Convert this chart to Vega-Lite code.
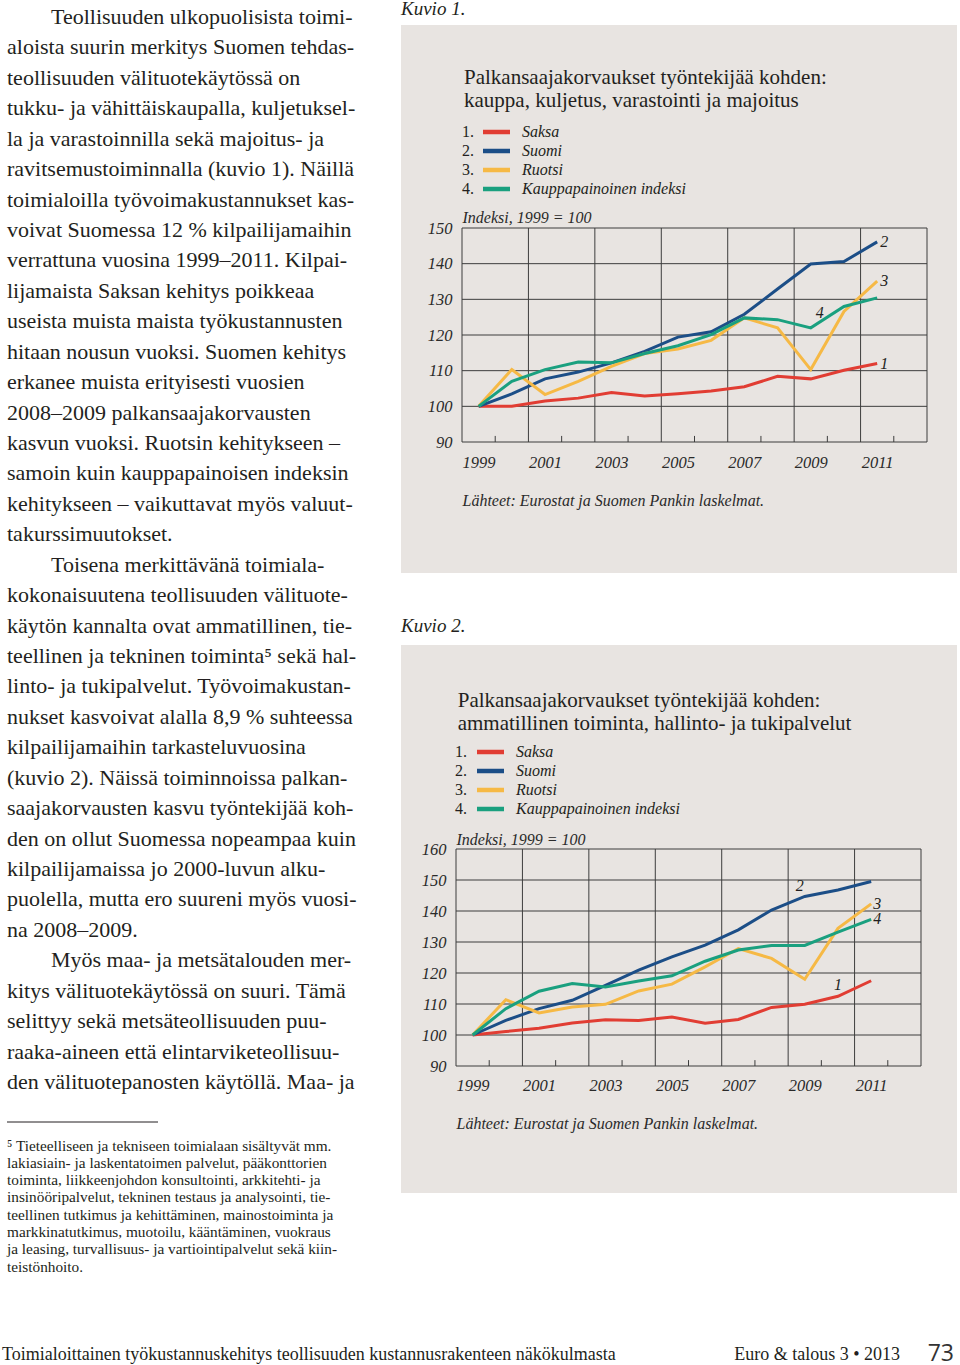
{
  "$schema": "https://vega.github.io/schema/vega-lite/v6.json",
  "background": "white",
  "padding": {"left": 2, "top": 0, "right": 0, "bottom": 0},
  "bounds": "flush",
  "spacing": 399,
  "resolve": {"scale": {"color": "independent", "shape": "independent"}, "legend": {"color": "independent", "shape": "independent"}},
  "config": {
    "view": {"stroke": null},
    "font": "Liberation Serif",
    "title": {"font": "Liberation Serif", "fontWeight": "normal", "color": "#231f20", "anchor": "start", "frame": "group"},
    "axis": {"labelFont": "Liberation Serif", "labelFontStyle": "italic", "labelFontSize": 16.5, "labelColor": "#2a2a2a", "titleFont": "Liberation Serif", "titleFontStyle": "italic", "titleFontWeight": "normal", "titleFontSize": 16, "titleColor": "#2a2a2a"},
    "legend": {"labelFont": "Liberation Serif", "labelColor": "#231f20", "labelFontSize": 16, "clipHeight": 16, "rowPadding": 3, "labelLimit": 400, "titleLimit": 600}
  },
  "datasets": {
    "kuvio1": [
      {"year": 1999, "series": "Saksa", "value": 100},
      {"year": 2000, "series": "Saksa", "value": 100.0},
      {"year": 2001, "series": "Saksa", "value": 101.5},
      {"year": 2002, "series": "Saksa", "value": 102.3},
      {"year": 2003, "series": "Saksa", "value": 103.9},
      {"year": 2004, "series": "Saksa", "value": 102.9},
      {"year": 2005, "series": "Saksa", "value": 103.5},
      {"year": 2006, "series": "Saksa", "value": 104.3},
      {"year": 2007, "series": "Saksa", "value": 105.5},
      {"year": 2008, "series": "Saksa", "value": 108.4},
      {"year": 2009, "series": "Saksa", "value": 107.7},
      {"year": 2010, "series": "Saksa", "value": 110.1},
      {"year": 2011, "series": "Saksa", "value": 112.0, "label": "1"},
      {"year": 1999, "series": "Suomi", "value": 100},
      {"year": 2000, "series": "Suomi", "value": 103.5},
      {"year": 2001, "series": "Suomi", "value": 107.7},
      {"year": 2002, "series": "Suomi", "value": 109.6},
      {"year": 2003, "series": "Suomi", "value": 112.2},
      {"year": 2004, "series": "Suomi", "value": 115.4},
      {"year": 2005, "series": "Suomi", "value": 119.4},
      {"year": 2006, "series": "Suomi", "value": 120.9},
      {"year": 2007, "series": "Suomi", "value": 125.8},
      {"year": 2008, "series": "Suomi", "value": 132.9},
      {"year": 2009, "series": "Suomi", "value": 139.9},
      {"year": 2010, "series": "Suomi", "value": 140.6},
      {"year": 2011, "series": "Suomi", "value": 146.1, "label": "2"},
      {"year": 1999, "series": "Ruotsi", "value": 100},
      {"year": 2000, "series": "Ruotsi", "value": 110.3},
      {"year": 2001, "series": "Ruotsi", "value": 103.3},
      {"year": 2002, "series": "Ruotsi", "value": 107.0},
      {"year": 2003, "series": "Ruotsi", "value": 111.2},
      {"year": 2004, "series": "Ruotsi", "value": 114.8},
      {"year": 2005, "series": "Ruotsi", "value": 116.1},
      {"year": 2006, "series": "Ruotsi", "value": 118.5},
      {"year": 2007, "series": "Ruotsi", "value": 124.8},
      {"year": 2008, "series": "Ruotsi", "value": 122.0},
      {"year": 2009, "series": "Ruotsi", "value": 110.3},
      {"year": 2010, "series": "Ruotsi", "value": 126.6},
      {"year": 2011, "series": "Ruotsi", "value": 135.1, "label": "3"},
      {"year": 1999, "series": "Kauppapainoinen indeksi", "value": 100},
      {"year": 2000, "series": "Kauppapainoinen indeksi", "value": 107.0},
      {"year": 2001, "series": "Kauppapainoinen indeksi", "value": 110.3},
      {"year": 2002, "series": "Kauppapainoinen indeksi", "value": 112.4},
      {"year": 2003, "series": "Kauppapainoinen indeksi", "value": 112.2},
      {"year": 2004, "series": "Kauppapainoinen indeksi", "value": 114.8},
      {"year": 2005, "series": "Kauppapainoinen indeksi", "value": 117.0},
      {"year": 2006, "series": "Kauppapainoinen indeksi", "value": 120.1},
      {"year": 2007, "series": "Kauppapainoinen indeksi", "value": 124.8},
      {"year": 2008, "series": "Kauppapainoinen indeksi", "value": 124.3},
      {"year": 2009, "series": "Kauppapainoinen indeksi", "value": 122.0, "label": "4"},
      {"year": 2010, "series": "Kauppapainoinen indeksi", "value": 128.0},
      {"year": 2011, "series": "Kauppapainoinen indeksi", "value": 130.4}
    ],
    "kuvio2": [
      {"year": 1999, "series": "Saksa", "value": 100},
      {"year": 2000, "series": "Saksa", "value": 101.1},
      {"year": 2001, "series": "Saksa", "value": 102.2},
      {"year": 2002, "series": "Saksa", "value": 103.9},
      {"year": 2003, "series": "Saksa", "value": 104.9},
      {"year": 2004, "series": "Saksa", "value": 104.7},
      {"year": 2005, "series": "Saksa", "value": 105.8},
      {"year": 2006, "series": "Saksa", "value": 103.8},
      {"year": 2007, "series": "Saksa", "value": 105.0},
      {"year": 2008, "series": "Saksa", "value": 108.9},
      {"year": 2009, "series": "Saksa", "value": 109.9},
      {"year": 2010, "series": "Saksa", "value": 112.5, "label": "1"},
      {"year": 2011, "series": "Saksa", "value": 117.5},
      {"year": 1999, "series": "Suomi", "value": 100},
      {"year": 2000, "series": "Suomi", "value": 104.7},
      {"year": 2001, "series": "Suomi", "value": 108.5},
      {"year": 2002, "series": "Suomi", "value": 111.2},
      {"year": 2003, "series": "Suomi", "value": 116.0},
      {"year": 2004, "series": "Suomi", "value": 120.9},
      {"year": 2005, "series": "Suomi", "value": 125.2},
      {"year": 2006, "series": "Suomi", "value": 129.0},
      {"year": 2007, "series": "Suomi", "value": 133.9},
      {"year": 2008, "series": "Suomi", "value": 140.3},
      {"year": 2009, "series": "Suomi", "value": 144.7, "label": "2"},
      {"year": 2010, "series": "Suomi", "value": 146.8},
      {"year": 2011, "series": "Suomi", "value": 149.5},
      {"year": 1999, "series": "Ruotsi", "value": 100},
      {"year": 2000, "series": "Ruotsi", "value": 111.4},
      {"year": 2001, "series": "Ruotsi", "value": 107.1},
      {"year": 2002, "series": "Ruotsi", "value": 109.0},
      {"year": 2003, "series": "Ruotsi", "value": 109.9},
      {"year": 2004, "series": "Ruotsi", "value": 114.2},
      {"year": 2005, "series": "Ruotsi", "value": 116.4},
      {"year": 2006, "series": "Ruotsi", "value": 122.0},
      {"year": 2007, "series": "Ruotsi", "value": 127.9},
      {"year": 2008, "series": "Ruotsi", "value": 124.7},
      {"year": 2009, "series": "Ruotsi", "value": 118.0},
      {"year": 2010, "series": "Ruotsi", "value": 134.4},
      {"year": 2011, "series": "Ruotsi", "value": 142.3, "label": "3"},
      {"year": 1999, "series": "Kauppapainoinen indeksi", "value": 100},
      {"year": 2000, "series": "Kauppapainoinen indeksi", "value": 108.5},
      {"year": 2001, "series": "Kauppapainoinen indeksi", "value": 114.1},
      {"year": 2002, "series": "Kauppapainoinen indeksi", "value": 116.6},
      {"year": 2003, "series": "Kauppapainoinen indeksi", "value": 115.5},
      {"year": 2004, "series": "Kauppapainoinen indeksi", "value": 117.4},
      {"year": 2005, "series": "Kauppapainoinen indeksi", "value": 119.1},
      {"year": 2006, "series": "Kauppapainoinen indeksi", "value": 123.8},
      {"year": 2007, "series": "Kauppapainoinen indeksi", "value": 127.4},
      {"year": 2008, "series": "Kauppapainoinen indeksi", "value": 128.9},
      {"year": 2009, "series": "Kauppapainoinen indeksi", "value": 128.9},
      {"year": 2010, "series": "Kauppapainoinen indeksi", "value": 133.2},
      {"year": 2011, "series": "Kauppapainoinen indeksi", "value": 137.3, "label": "4"}
    ],
    "legendnumbers": [{"nro": "1."}, {"nro": "2."}, {"nro": "3."}, {"nro": "4."}],
    "gridyears": [{"gridyear": 2000.5}, {"gridyear": 2002.5}, {"gridyear": 2004.5}, {"gridyear": 2006.5}, {"gridyear": 2008.5}, {"gridyear": 2010.5}],
    "tickyears": [{"tickyear": 1999.5}, {"tickyear": 2001.5}, {"tickyear": 2003.5}, {"tickyear": 2005.5}, {"tickyear": 2007.5}, {"tickyear": 2009.5}, {"tickyear": 2011.5}],
    "gridvalues1": [{"gridvalue": 100}, {"gridvalue": 110}, {"gridvalue": 120}, {"gridvalue": 130}, {"gridvalue": 140}],
    "gridvalues2": [{"gridvalue": 100}, {"gridvalue": 110}, {"gridvalue": 120}, {"gridvalue": 130}, {"gridvalue": 140}, {"gridvalue": 150}]
  },
  "hconcat": [
    {
      "bounds": "flush",
      "spacing": 1096,
      "vconcat": [
        {
          "width": 355,
          "height": 1,
          "data": {"values": []},
          "mark": "text",
          "encoding": {},
          "title": {
            "text": [
              "\u200b\u2003\u2003Teollisuuden ulkopuolisista toimi-",
              "aloista suurin merkitys Suomen tehdas-",
              "teollisuuden välituotekäytössä on",
              "tukku- ja vähittäiskaupalla, kuljetuksel-",
              "la ja varastoinnilla sekä majoitus- ja",
              "ravitsemustoiminnalla (kuvio 1). Näillä",
              "toimialoilla työvoimakustannukset kas-",
              "voivat Suomessa 12 % kilpailijamaihin",
              "verrattuna vuosina 1999–2011. Kilpai-",
              "lijamaista Saksan kehitys poikkeaa",
              "useista muista maista työkustannusten",
              "hitaan nousun vuoksi. Suomen kehitys",
              "erkanee muista erityisesti vuosien",
              "2008–2009 palkansaajakorvausten",
              "kasvun vuoksi. Ruotsin kehitykseen –",
              "samoin kuin kauppapainoisen indeksin",
              "kehitykseen – vaikuttavat myös valuut-",
              "takurssimuutokset.",
              "\u200b\u2003\u2003Toisena merkittävänä toimiala-",
              "kokonaisuutena teollisuuden välituote-",
              "käytön kannalta ovat ammatillinen, tie-",
              "teellinen ja tekninen toiminta⁵ sekä hal-",
              "linto- ja tukipalvelut. Työvoimakustan-",
              "nukset kasvoivat alalla 8,9 % suhteessa",
              "kilpailijamaihin tarkasteluvuosina",
              "(kuvio 2). Näissä toiminnoissa palkan-",
              "saajakorvausten kasvu työntekijää koh-",
              "den on ollut Suomessa nopeampaa kuin",
              "kilpailijamaissa jo 2000-luvun alku-",
              "puolella, mutta ero suureni myös vuosi-",
              "na 2008–2009.",
              "\u200b\u2003\u2003Myös maa- ja metsätalouden mer-",
              "kitys välituotekäytössä on suuri. Tämä",
              "selittyy sekä metsäteollisuuden puu-",
              "raaka-aineen että elintarviketeollisuu-",
              "den välituotepanosten käytöllä. Maa- ja"
            ],
            "orient": "bottom",
            "anchor": "start",
            "frame": "group",
            "baseline": "alphabetic",
            "offset": -2,
            "dx": 5,
            "fontSize": 22,
            "lineHeight": 30.43
          }
        },
        {
          "bounds": "flush",
          "spacing": 238,
          "vconcat": [
            {
              "width": 156,
              "height": 1,
              "data": {"values": [{}]},
              "mark": {"type": "rule", "color": "#231f20", "strokeWidth": 1, "xOffset": 5},
              "encoding": {
                "x": {"datum": 0, "type": "quantitative", "scale": {"domain": [0, 1]}, "axis": null},
                "x2": {"datum": 1},
                "y": {"datum": 1, "type": "quantitative", "scale": {"domain": [0, 1]}, "axis": null}
              },
              "title": {
                "text": [
                  "⁵ Tieteelliseen ja tekniseen toimialaan sisältyvät mm.",
                  "lakiasiain- ja laskentatoimen palvelut, pääkonttorien",
                  "toiminta, liikkeenjohdon konsultointi, arkkitehti- ja",
                  "insinööripalvelut, tekninen testaus ja analysointi, tie-",
                  "teellinen tutkimus ja kehittäminen, mainostoiminta ja",
                  "markkinatutkimus, muotoilu, kääntäminen, vuokraus",
                  "ja leasing, turvallisuus- ja vartiointipalvelut sekä kiin-",
                  "teistönhoito."
                ],
                "orient": "bottom",
                "anchor": "start",
                "frame": "group",
                "baseline": "alphabetic",
                "offset": 27.5,
                "dx": 5,
                "fontSize": 15.3,
                "lineHeight": 17.3
              }
            },
            {
              "width": 355,
              "height": 1,
              "data": {"values": []},
              "mark": "text",
              "encoding": {},
              "title": {
                "text": "Toimialoittainen työkustannuskehitys teollisuuden kustannusrakenteen näkökulmasta",
                "orient": "bottom",
                "anchor": "start",
                "frame": "group",
                "baseline": "alphabetic",
                "offset": -2,
                "fontSize": 18
              }
            }
          ]
        }
      ]
    },
    {
      "bounds": "flush",
      "spacing": 72,
      "resolve": {"scale": {"color": "independent", "shape": "independent"}, "legend": {"color": "independent", "shape": "independent"}},
      "vconcat": [
        {
          "width": 556,
          "height": 548,
          "view": {"fill": "#e8e4e1", "stroke": null},
          "title": {
            "text": "Kuvio 1.",
            "subtitle": ["\u200b\u2003\u2003\u2003Palkansaajakorvaukset työntekijää kohden:", "\u200b\u2003\u2003\u2003kauppa, kuljetus, varastointi ja majoitus"],
            "orient": "top", "anchor": "start", "frame": "group", "baseline": "top", "offset": -86,
            "fontSize": 19, "fontStyle": "italic",
            "subtitleFont": "Liberation Serif", "subtitleFontSize": 21, "subtitleFontStyle": "normal", "subtitleFontWeight": "normal", "subtitleColor": "#231f20", "subtitleLineHeight": 23, "subtitlePadding": 48
          },
          "layer": [
            {
              "data": {"name": "gridyears"},
              "mark": {"type": "rule", "color": "#3d3d3d", "strokeWidth": 1},
              "encoding": {
                "x": {"field": "gridyear", "type": "quantitative"},
                "y": {"datum": 90, "type": "quantitative"},
                "y2": {"datum": 150}
              }
            },
            {
              "data": {"name": "gridvalues1"},
              "mark": {"type": "rule", "color": "#3d3d3d", "strokeWidth": 1},
              "encoding": {
                "y": {"field": "gridvalue", "type": "quantitative"},
                "x": {"datum": 1998.5, "type": "quantitative"},
                "x2": {"datum": 2012.5}
              }
            },
            {
              "data": {"name": "tickyears"},
              "mark": {"type": "rule", "color": "#3d3d3d", "strokeWidth": 1},
              "encoding": {
                "x": {"field": "tickyear", "type": "quantitative"},
                "y": {"datum": 90, "type": "quantitative"},
                "y2": {"datum": 91.7}
              }
            },
            {
              "data": {"values": [{}]},
              "mark": {"type": "rect", "filled": false, "stroke": "#3d3d3d", "strokeWidth": 1},
              "encoding": {
                "x": {"datum": 1998.5, "type": "quantitative"},
                "x2": {"datum": 2012.5},
                "y": {"datum": 90, "type": "quantitative"},
                "y2": {"datum": 150}
              }
            },
            {
              "data": {"name": "kuvio1"},
              "mark": {"type": "line", "strokeWidth": 3},
              "encoding": {
                "x": {"field": "year", "type": "quantitative", "scale": {"domain": [1998.5, 2012.5], "range": [61, 526], "nice": false, "zero": false},
                  "axis": {"orient": "bottom", "offset": -131, "values": [1999, 2001, 2003, 2005, 2007, 2009, 2011], "format": "d", "labelPadding": 12, "ticks": false, "domain": false, "grid": false,
                    "title": "Lähteet: Eurostat ja Suomen Pankin laskelmat.", "titleAnchor": "start", "titleAlign": "left", "titlePadding": 22}},
                "y": {"field": "value", "type": "quantitative", "scale": {"domain": [90, 150], "range": [417, 203], "nice": false, "zero": false},
                  "axis": {"orient": "left", "offset": -61, "values": [90, 100, 110, 120, 130, 140, 150], "labelPadding": 10, "ticks": false, "domain": false, "grid": false,
                    "title": "Indeksi, 1999 = 100", "titleAngle": 0, "titleX": 0, "titleY": 192, "titleAlign": "left", "titleBaseline": "middle"}},
                "color": {
                  "field": "series", "type": "nominal",
                  "scale": {"domain": ["Saksa", "Suomi", "Ruotsi", "Kauppapainoinen indeksi"], "range": ["#e13d33", "#1c4e87", "#f6b945", "#1aa07f"]},
                  "legend": {"orient": "none", "legendX": 79.5, "legendY": 99, "title": null, "symbolType": "stroke", "symbolSize": 729, "symbolStrokeWidth": 4.5, "labelFontStyle": "italic", "labelOffset": 9.5}
                }
              }
            },
            {
              "data": {"name": "legendnumbers"},
              "mark": {"type": "point", "opacity": 0},
              "encoding": {
                "shape": {
                  "field": "nro",
                  "type": "nominal",
                  "legend": {"orient": "none", "legendX": 44, "legendY": 99, "title": null, "symbolSize": 1, "symbolOpacity": 0, "symbolStrokeWidth": 0, "labelFontStyle": "normal", "labelOffset": 1}
                }
              }
            },
            {
              "data": {"name": "kuvio1"},
              "transform": [{"filter": "isValid(datum.label) && datum.year == 2011"}],
              "mark": {"type": "text", "fontStyle": "italic", "fontSize": 16, "color": "#231f20", "align": "left", "baseline": "middle", "dx": 3},
              "encoding": {
                "x": {"field": "year", "type": "quantitative"},
                "y": {"field": "value", "type": "quantitative"},
                "text": {"field": "label"}
              }
            },
            {
              "data": {"name": "kuvio1"},
              "transform": [{"filter": "datum.label == '4'"}],
              "mark": {"type": "text", "fontStyle": "italic", "fontSize": 16, "color": "#231f20", "align": "center", "baseline": "middle", "dx": 9, "dy": -15},
              "encoding": {
                "x": {"field": "year", "type": "quantitative"},
                "y": {"field": "value", "type": "quantitative"},
                "text": {"field": "label"}
              }
            }
          ]
        },
        {
          "width": 556,
          "height": 548,
          "view": {"fill": "#e8e4e1", "stroke": null},
          "title": {
            "text": "Kuvio 2.",
            "subtitle": ["\u200b\u2003\u2003\u2002\u2009Palkansaajakorvaukset työntekijää kohden:", "\u200b\u2003\u2003\u2002\u2009ammatillinen toiminta, hallinto- ja tukipalvelut"],
            "orient": "top", "anchor": "start", "frame": "group", "baseline": "top", "offset": -89,
            "fontSize": 19, "fontStyle": "italic",
            "subtitleFont": "Liberation Serif", "subtitleFontSize": 21, "subtitleFontStyle": "normal", "subtitleFontWeight": "normal", "subtitleColor": "#231f20", "subtitleLineHeight": 23, "subtitlePadding": 54
          },
          "layer": [
            {
              "data": {"name": "gridyears"},
              "mark": {"type": "rule", "color": "#3d3d3d", "strokeWidth": 1},
              "encoding": {
                "x": {"field": "gridyear", "type": "quantitative"},
                "y": {"datum": 90, "type": "quantitative"},
                "y2": {"datum": 160}
              }
            },
            {
              "data": {"name": "gridvalues2"},
              "mark": {"type": "rule", "color": "#3d3d3d", "strokeWidth": 1},
              "encoding": {
                "y": {"field": "gridvalue", "type": "quantitative"},
                "x": {"datum": 1998.5, "type": "quantitative"},
                "x2": {"datum": 2012.5}
              }
            },
            {
              "data": {"name": "tickyears"},
              "mark": {"type": "rule", "color": "#3d3d3d", "strokeWidth": 1},
              "encoding": {
                "x": {"field": "tickyear", "type": "quantitative"},
                "y": {"datum": 90, "type": "quantitative"},
                "y2": {"datum": 91.9}
              }
            },
            {
              "data": {"values": [{}]},
              "mark": {"type": "rect", "filled": false, "stroke": "#3d3d3d", "strokeWidth": 1},
              "encoding": {
                "x": {"datum": 1998.5, "type": "quantitative"},
                "x2": {"datum": 2012.5},
                "y": {"datum": 90, "type": "quantitative"},
                "y2": {"datum": 160}
              }
            },
            {
              "data": {"name": "kuvio2"},
              "mark": {"type": "line", "strokeWidth": 3},
              "encoding": {
                "x": {"field": "year", "type": "quantitative", "scale": {"domain": [1998.5, 2012.5], "range": [55, 520], "nice": false, "zero": false},
                  "axis": {"orient": "bottom", "offset": -127, "values": [1999, 2001, 2003, 2005, 2007, 2009, 2011], "format": "d", "labelPadding": 11, "ticks": false, "domain": false, "grid": false,
                    "title": "Lähteet: Eurostat ja Suomen Pankin laskelmat.", "titleAnchor": "start", "titleAlign": "left", "titlePadding": 22}},
                "y": {"field": "value", "type": "quantitative", "scale": {"domain": [90, 160], "range": [421, 204], "nice": false, "zero": false},
                  "axis": {"orient": "left", "offset": -55, "values": [90, 100, 110, 120, 130, 140, 150, 160], "labelPadding": 10, "ticks": false, "domain": false, "grid": false,
                    "title": "Indeksi, 1999 = 100", "titleAngle": 0, "titleX": 0, "titleY": 194, "titleAlign": "left", "titleBaseline": "middle"}},
                "color": {
                  "field": "series", "type": "nominal",
                  "scale": {"domain": ["Saksa", "Suomi", "Ruotsi", "Kauppapainoinen indeksi"], "range": ["#e13d33", "#1c4e87", "#f6b945", "#1aa07f"]},
                  "legend": {"orient": "none", "legendX": 73.5, "legendY": 99, "title": null, "symbolType": "stroke", "symbolSize": 729, "symbolStrokeWidth": 4.5, "labelFontStyle": "italic", "labelOffset": 9.5}
                }
              }
            },
            {
              "data": {"name": "legendnumbers"},
              "mark": {"type": "point", "opacity": 0},
              "encoding": {
                "shape": {
                  "field": "nro",
                  "type": "nominal",
                  "legend": {"orient": "none", "legendX": 37, "legendY": 99, "title": null, "symbolSize": 1, "symbolOpacity": 0, "symbolStrokeWidth": 0, "labelFontStyle": "normal", "labelOffset": 1}
                }
              }
            },
            {
              "data": {"name": "kuvio2"},
              "transform": [{"filter": "isValid(datum.label) && datum.year == 2011"}],
              "mark": {"type": "text", "fontStyle": "italic", "fontSize": 16, "color": "#231f20", "align": "left", "baseline": "middle", "dx": 2},
              "encoding": {
                "x": {"field": "year", "type": "quantitative"},
                "y": {"field": "value", "type": "quantitative"},
                "text": {"field": "label"}
              }
            },
            {
              "data": {"name": "kuvio2"},
              "transform": [{"filter": "datum.label == '2'"}],
              "mark": {"type": "text", "fontStyle": "italic", "fontSize": 16, "color": "#231f20", "align": "center", "baseline": "middle", "dx": -5, "dy": -10},
              "encoding": {
                "x": {"field": "year", "type": "quantitative"},
                "y": {"field": "value", "type": "quantitative"},
                "text": {"field": "label"}
              }
            },
            {
              "data": {"name": "kuvio2"},
              "transform": [{"filter": "datum.label == '1'"}],
              "mark": {"type": "text", "fontStyle": "italic", "fontSize": 16, "color": "#231f20", "align": "center", "baseline": "middle", "dx": 0, "dy": -11},
              "encoding": {
                "x": {"field": "year", "type": "quantitative"},
                "y": {"field": "value", "type": "quantitative"},
                "text": {"field": "label"}
              }
            }
          ]
        },
        {
          "bounds": "flush",
          "spacing": 0,
          "hconcat": [
            {
              "width": 499,
              "height": 1,
              "data": {"values": []},
              "mark": "text",
              "encoding": {},
              "title": {"text": "Euro & talous 3 • 2013", "orient": "bottom", "anchor": "end", "frame": "group", "baseline": "alphabetic", "offset": 94, "fontSize": 18}
            },
            {
              "width": 57,
              "height": 1,
              "data": {"values": []},
              "mark": "text",
              "encoding": {},
              "title": {"text": "73", "orient": "bottom", "anchor": "end", "frame": "group", "baseline": "alphabetic", "offset": 95, "dx": -3, "fontSize": 23, "font": "Open Sans", "color": "#333333"}
            }
          ]
        }
      ]
    }
  ]
}
